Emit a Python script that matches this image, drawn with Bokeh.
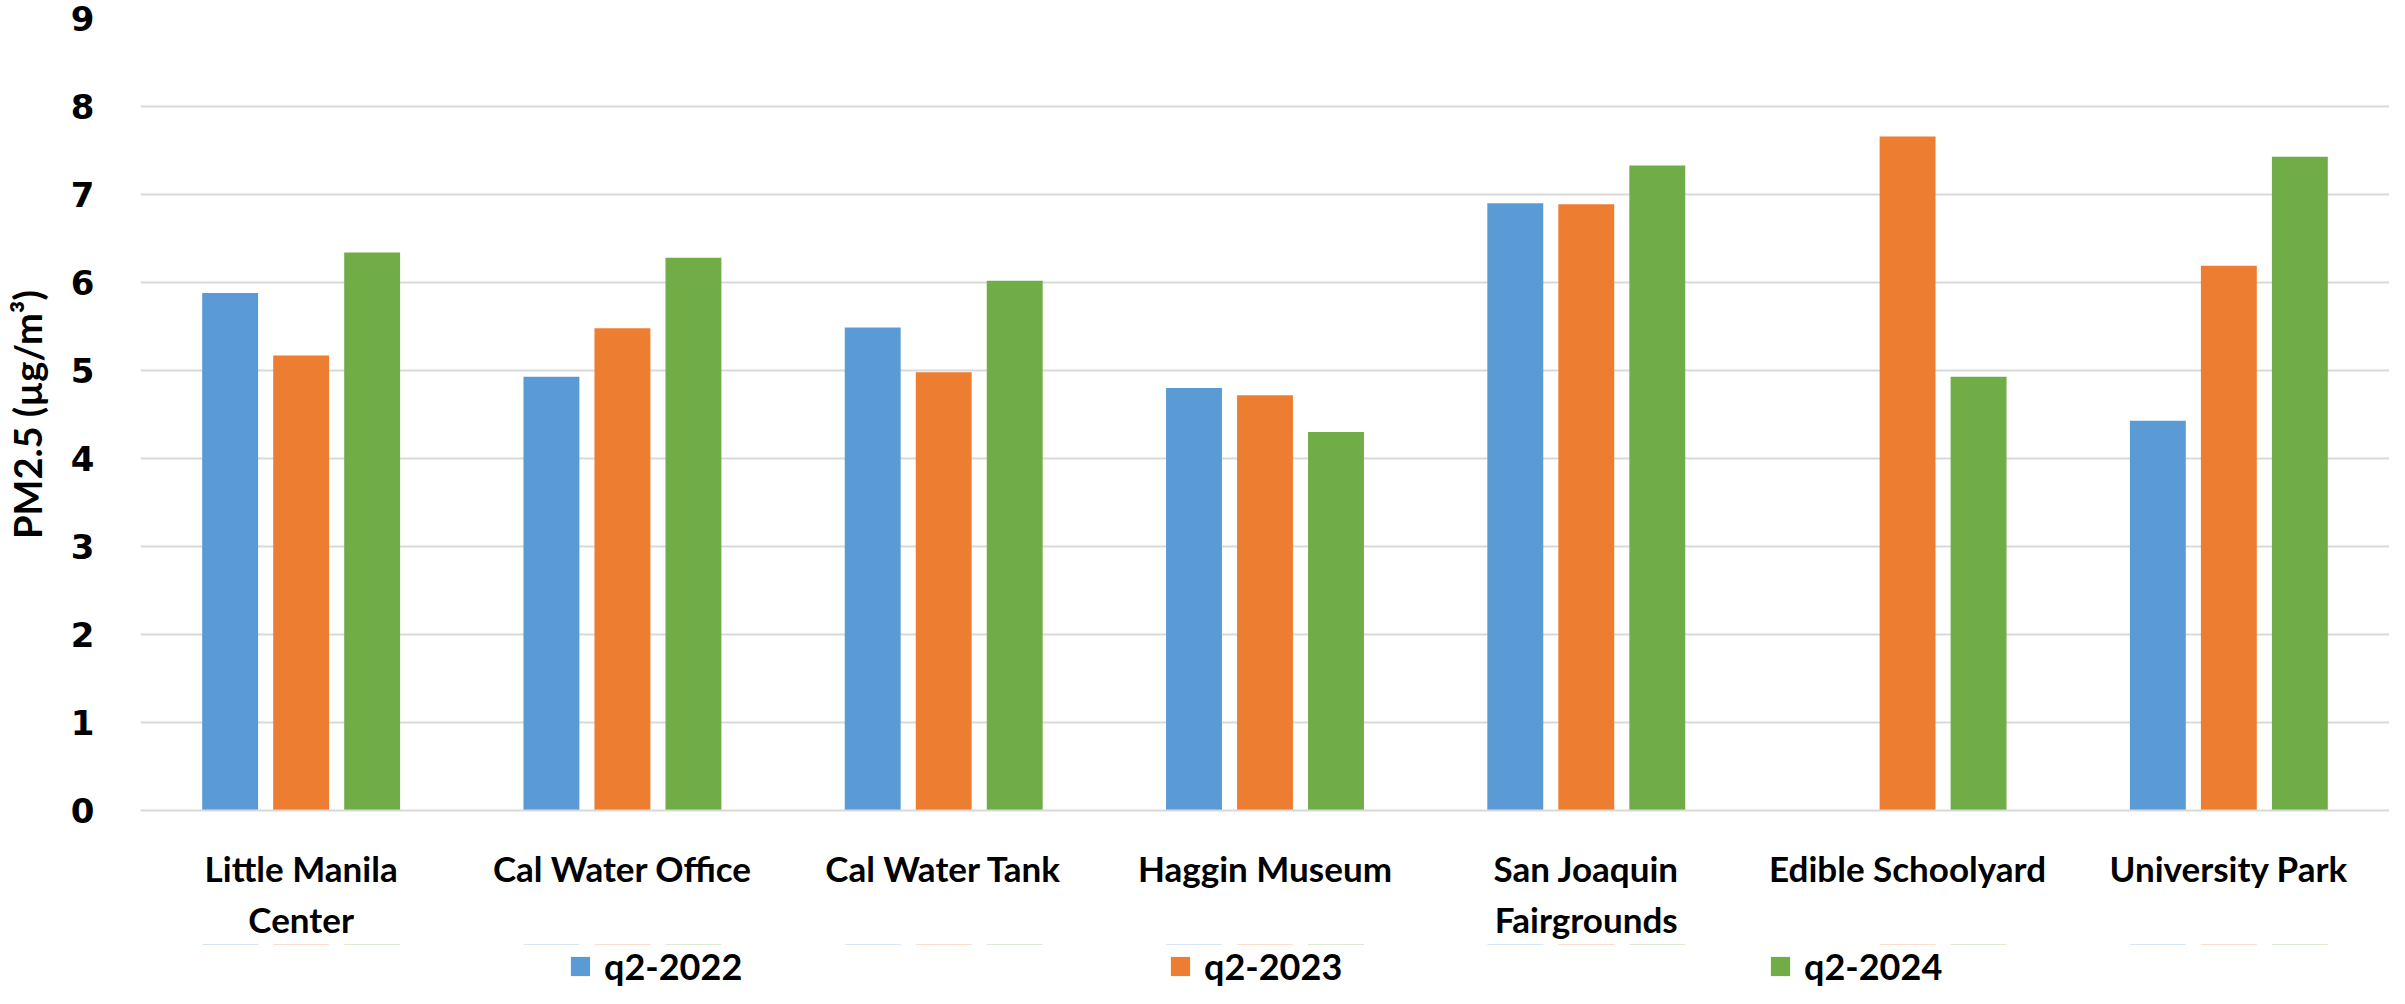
import math
from bokeh.plotting import figure
from bokeh.layouts import column
from bokeh.models import ColumnDataSource, Range1d, FactorRange, FixedTicker, Legend, LegendItem
from bokeh.transform import dodge
from bokeh.embed import file_html
from bokeh.resources import INLINE

# ---- data ----
sites = ["Little Manila\nCenter", "Cal Water Office", "Cal Water Tank", "Haggin Museum",
         "San Joaquin\nFairgrounds", "Edible Schoolyard", "University Park"]
q2_2022 = [5.88, 4.93, 5.49, 4.80, 6.90, float("nan"), 4.43]
q2_2023 = [5.17, 5.48, 4.98, 4.72, 6.89, 7.66, 6.19]
q2_2024 = [6.34, 6.28, 6.02, 4.30, 7.33, 4.93, 7.43]
series_names = ["q2-2022", "q2-2023", "q2-2024"]
y_ticks = [0, 1, 2, 3, 4, 5, 6, 7, 8, 9]

colors = ["#5B9BD5", "#ED7D31", "#70AD47"]

source = ColumnDataSource(data=dict(site=sites, a=q2_2022, b=q2_2023, c=q2_2024))

p = figure(x_range=sites, y_range=Range1d(0, 9), width=2389, height=944,
           output_backend="svg", toolbar_location=None,
           min_border_left=130, min_border_right=0, min_border_top=18, min_border_bottom=134)
p.outline_line_color = None
p.background_fill_color = "white"

bw = 0.174
step = 0.221
cols = ["a", "b", "c"]
offsets = [-step, 0.0, step]
for col, off, c in zip(cols, offsets, colors):
    p.vbar(x=dodge("site", off, range=p.x_range), top=col, width=bw, source=source,
           fill_color=c, line_color=None)

# grid
p.xgrid.grid_line_color = None
p.ygrid.grid_line_color = "#D9D9D9"
p.ygrid.grid_line_width = 2
p.yaxis.ticker = FixedTicker(ticks=y_ticks)

# y axis
p.yaxis.axis_line_color = None
p.yaxis.major_tick_line_color = None
p.yaxis.minor_tick_line_color = None
p.yaxis.major_label_text_font = "DejaVu Sans"
p.yaxis.major_label_text_font_style = "bold"
p.yaxis.major_label_text_font_size = "34px"
p.yaxis.major_label_text_color = "black"
p.yaxis.major_label_standoff = 40
p.yaxis.axis_label = "PM2.5 (µg/m³)"
p.yaxis.axis_label_text_font = "Lato"
p.yaxis.axis_label_text_font_style = "bold"
p.yaxis.axis_label_text_font_size = "38px"
p.yaxis.axis_label_text_color = "black"
p.yaxis.axis_label_standoff = 18

# x axis
p.xaxis.axis_line_color = "#D9D9D9"
p.xaxis.axis_line_width = 2
p.xaxis.major_tick_line_color = None
p.xaxis.minor_tick_line_color = None
p.xaxis.major_label_text_font = "Lato"
p.xaxis.major_label_text_font_style = "bold"
p.xaxis.major_label_text_font_size = "35px"
p.xaxis.major_label_text_line_height = 1.22
p.xaxis.major_label_text_color = "black"
p.xaxis.major_label_standoff = 30

# ---- legend strip (zero-height copies of the series, out of view; only the legend shows) ----
p2 = figure(width=2389, height=44, x_range=FactorRange(*sites), y_range=Range1d(-1000, -999),
            x_axis_type=None, y_axis_type=None, output_backend="svg", toolbar_location=None,
            min_border=0, min_border_left=0, min_border_right=0, min_border_top=0, min_border_bottom=0)
p2.outline_line_color = None
leg_renderers = []
for col, off, c in zip(cols, offsets, colors):
    r = p2.vbar(x=dodge("site", off, range=p2.x_range), top=col, bottom=col, width=bw, source=source,
                fill_color=c, line_color=None)
    leg_renderers.append(r)

legend = Legend(items=[LegendItem(label=n, renderers=[r]) for n, r in zip(series_names, leg_renderers)],
                orientation="horizontal", location=(428, 0),
                glyph_width=24, glyph_height=24, label_standoff=12,
                label_width=564, spacing=0, padding=0, margin=0,
                border_line_color=None, background_fill_alpha=0,
                label_text_font="Lato", label_text_font_style="bold",
                label_text_font_size="36px", label_text_line_height=0.7,
                label_text_color="black")
p2.add_layout(legend)

open("out.html", "w").write(file_html(column(p, p2), INLINE))
